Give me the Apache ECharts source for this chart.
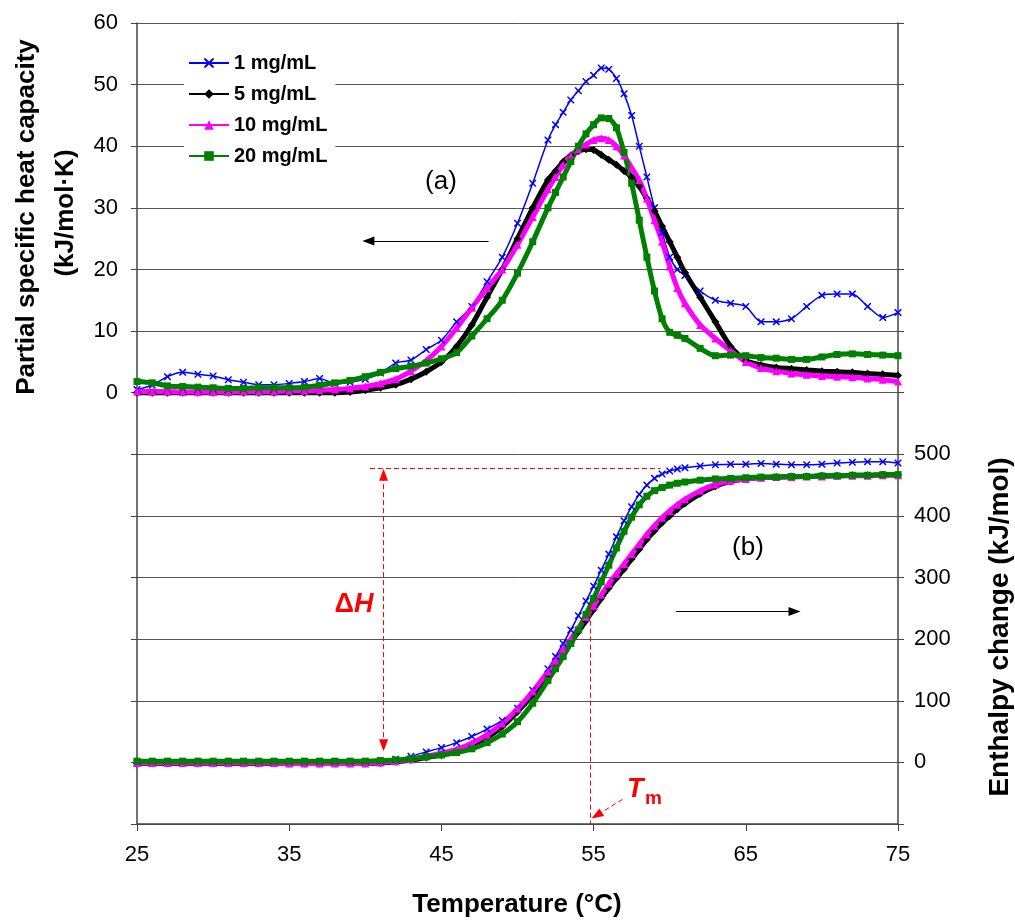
<!DOCTYPE html>
<html>
<head>
<meta charset="utf-8">
<script src="https://cdn.jsdelivr.net/npm/echarts@6/dist/echarts.min.js"></script>
<style>html,body{margin:0;padding:0;background:#fff}#c{width:1015px;height:920px}</style>
</head>
<body>
<div id="c"></div>
<script>
// Temperatures (°C)
const temps = [25,26,27,28,29,30,31,32,33,34,35,36,37,38,39,40,41,42,43,44,45,46,47,48,49,50,51,52,
  52.5,53,53.5,54,54.5,55,55.5,56,56.5,57,57.5,58,58.5,59,59.5,60,60.5,61,
  62,63,64,65,66,67,68,69,70,71,72,73,74,75];

// (a) Partial specific heat capacity (kJ/mol·K)
const cp1 = [0.5,1.2,2.6,3.3,3.0,2.7,2.1,1.7,1.3,1.3,1.5,1.8,2.3,1.5,1.7,2.2,3.2,4.8,5.3,7,8.5,11.5,14,18,22,27.5,34,41,
  43.5,45.5,47.5,49,50.5,51.5,52.7,52.5,51,48.5,45,40,35,30,26,22,20,19,
  16.5,15,14.5,14,11.5,11.5,12,14,15.8,16,16,14,12.2,13];
const cp5 = [0,0,0,0,0,0,0,0,0,0,0,0,0,0,0.1,0.4,0.8,1.3,2.2,3.4,5,7.5,11,15.5,20,25,30,34.5,
  36,37.5,38.5,39.2,39.5,39.4,38.6,37.8,37,36,35,33.5,31.5,29.5,27,24.5,22,19.5,
  15.5,11.5,7.5,5.2,4.5,4.1,3.9,3.7,3.5,3.4,3.3,3.1,3.0,2.8];
const cp10 = [0.2,0.2,0.2,0.1,0.1,0.1,0.1,0.2,0.2,0.2,0.3,0.3,0.4,0.5,0.7,1.0,1.5,2.2,3.5,5.2,7.5,10.5,13.8,17,20,24,28.5,33,
  35,37,38.5,39.5,40.3,41,41.3,41,40,38.5,36.5,34.5,31.5,28,24.5,20.5,17,14.5,
  11,8.8,6.8,5,4,3.5,3.1,2.9,2.7,2.6,2.5,2.3,2.1,1.8];
const cp20 = [1.8,1.6,1.1,1.0,0.9,0.8,0.7,0.7,0.8,0.8,0.8,0.9,1.2,1.6,2.0,2.6,3.3,3.9,4.3,4.8,5.5,6.5,9.2,12,15,19.4,24.5,30,
  32.5,35,37.5,40,42,43.5,44.6,44.5,43,39,34,28,22,16.5,12,9.8,9.3,8.8,
  7.2,6,6.1,6,5.7,5.6,5.4,5.4,5.8,6.2,6.3,6.2,6.1,6];

// (b) Enthalpy change (kJ/mol)
const h1 = [-1,-1,-1,-1,-1,-1,-1,-1,-1,-1,-1,-1,-1,-1,-1,0,2,5,10,17,24,32,42,54,68,88,117,152,
  172,193,215,238,262,286,312,338,366,392,415,435,450,461,468,473,476,478,
  481,483,484,484,485,484,483,483,484,486,487,488,488,486];
const h5 = [-2,-2,-2,-2,-2,-2,-2,-2,-2,-2,-2,-2,-2,-2,-2,-2,-1,1,4,8,12,17,26,40,58,82,110,142,
  160,178,194,212,230,248,266,283,299,314,330,346,362,376,389,400,411,420,
  436,448,456,460,462,463,464,464,465,465,466,466,467,467];
const h10 = [-1,-1,-1,-1,-1,-1,-1,-1,-1,-1,-2,-2,-2,-2,-2,-2,0,2,5,10,15,21,31,45,63,87,115,147,
  165,183,200,218,236,254,272,290,306,322,338,354,370,384,397,408,418,427,
  441,451,457,460,462,463,463,464,464,465,465,465,466,466];
const h20 = [2,2,2,2,2,2,2,2,2,2,2,2,2,2,2,2,3,4,6,9,12,16,22,32,46,66,96,133,
  152,172,193,215,240,266,293,320,348,375,398,418,432,441,446,450,453,455,
  458,460,461,462,463,463,464,464,465,465,466,466,467,467];

const seriesNames = ['1 mg/mL','5 mg/mL','10 mg/mL','20 mg/mL'];
const xTicks = [25,35,45,55,65,75];

// Annotation coordinates (data units)
const dHx = 41.2, dHlow = 28, dHhigh = 467, dHline = 477, dHlineFrom = 40.3, dHlineTo = 59.4;
const TmX = 54.8, TmTop = 256, axisBottom = -100;
const TmArrow = [[56.9,-60],[55.2,-86]];
const arrowA = {y:24.6, from:48.1, to:40.2};
const arrowB = {y:245, from:60.4, to:68.2};

const pair = arr => temps.map((t,i)=>[t,arr[i]]);
const FONT = 'Liberation Sans, Arial, sans-serif';
const xPath = 'path://M0,0 L1.5,0 L5,3.5 L8.5,0 L10,0 L10,1.5 L6.5,5 L10,8.5 L10,10 L8.5,10 L5,6.5 L1.5,10 L0,10 L0,8.5 L3.5,5 L0,1.5 Z';

const styles = [
  {color:'#0000ff', width:1.5, symbol:xPath, size:7},
  {color:'#000000', width:5, symbol:'diamond', size:8},
  {color:'#ff00ff', width:5, symbol:'triangle', size:8},
  {color:'#008000', width:5, symbol:'rect', size:7}
];
const topData = [cp1,cp5,cp10,cp20];
const botData = [h1,h5,h10,h20];

function mk(name, st, data, yIdx){
  return {
    name, type:'line', yAxisIndex:yIdx, data:pair(data),
    smooth:0.25, showAllSymbol:true, showSymbol:true,
    symbol:st.symbol, symbolSize:st.size,
    lineStyle:{color:st.color, width:st.width},
    itemStyle:{color:st.color, borderWidth:0},
    emphasis:{disabled:true}, silent:true, z:3
  };
}
const series = [];
for(let i=0;i<4;i++) series.push(mk(seriesNames[i], styles[i], topData[i], 0));
for(let i=0;i<4;i++) series.push(mk(seriesNames[i], styles[i], botData[i], 1));

const red = '#ff0000';
series.push({
  type:'line', yAxisIndex:1, data:[], silent:true, z:5,
  markLine:{
    silent:true, animation:false, label:{show:false}, emphasis:{disabled:true},
    lineStyle:{color:red, type:[5,3], width:1},
    symbolSize:[9,12],
    data:[
      [{coord:[dHx,dHlow], symbol:'triangle'},{coord:[dHx,dHhigh], symbol:'triangle'}],
      [{coord:[dHlineFrom,dHline], symbol:'none'},{coord:[dHlineTo,dHline], symbol:'none'}],
      [{coord:[TmX,TmTop], symbol:'none'},{coord:[TmX,axisBottom], symbol:'none'}],
      [{coord:TmArrow[0], symbol:'none'},{coord:TmArrow[1], symbol:'triangle'}],
      [{coord:[arrowB.from,arrowB.y], symbol:'none', lineStyle:{color:'#000',type:'solid',width:1.2}},
       {coord:[arrowB.to,arrowB.y], symbol:'triangle'}]
    ]
  }
});
series.push({
  type:'line', yAxisIndex:0, data:[], silent:true, z:5,
  markLine:{
    silent:true, animation:false, label:{show:false}, emphasis:{disabled:true},
    lineStyle:{color:'#000', type:'solid', width:1.2},
    symbolSize:[9,12],
    data:[
      [{coord:[arrowA.from,arrowA.y], symbol:'none'},{coord:[arrowA.to,arrowA.y], symbol:'triangle'}]
    ]
  }
});

const chart = echarts.init(document.getElementById('c'), null, {renderer:'canvas'});
const axisCol = '#444';
chart.setOption({
  animation:false,
  backgroundColor:'#fff',
  grid:{left:137, right:117, top:23, bottom:96, containLabel:false},
  legend:{
    data:seriesNames, orient:'vertical', left:184, top:49,
    itemWidth:40, itemHeight:12, itemGap:11, padding:[4,8,4,4],
    backgroundColor:'#fff',
    lineStyle:{width:2},
    textStyle:{fontFamily:FONT, fontWeight:'bold', fontSize:20, color:'#000'},
    selectedMode:false
  },
  xAxis:{
    type:'value', min:25, max:75, interval:10,
    axisLine:{show:true, onZero:false, lineStyle:{color:axisCol, width:1.5}},
    axisTick:{show:true, length:7, lineStyle:{color:axisCol}},
    axisLabel:{fontFamily:FONT, fontSize:22, color:'#000', margin:20,
      formatter:v=> xTicks.includes(v)? String(v):''},
    splitLine:{show:false}
  },
  yAxis:[
    {type:'value', position:'left', min:-70, max:60, interval:10,
     axisLine:{show:true, lineStyle:{color:axisCol, width:1.5}},
     axisTick:{show:true, length:6, lineStyle:{color:axisCol}},
     axisLabel:{fontFamily:FONT, fontSize:22, color:'#000', margin:19,
       formatter:v=> v>=0? String(v):''},
     splitLine:{show:true, lineStyle:{color:'#555', width:1}}},
    {type:'value', position:'right', min:-100, max:1200, interval:100,
     axisLine:{show:true, lineStyle:{color:axisCol, width:1.5}},
     axisTick:{show:true, length:6, lineStyle:{color:axisCol}},
     axisLabel:{fontFamily:FONT, fontSize:22, color:'#000', margin:16,
       formatter:v=> (v>=0 && v<=500)? String(v):''},
     splitLine:{show:false}}
  ],
  graphic:[
    {type:'text', x:27, y:217, rotation:Math.PI/2, silent:true,
     style:{text:'Partial specific heat capacity', font:'bold 26px '+FONT, fill:'#000', align:'center', verticalAlign:'middle'}},
    {type:'text', x:66, y:213, rotation:Math.PI/2, silent:true,
     style:{text:'(kJ/mol·K)', font:'bold 26px '+FONT, fill:'#000', align:'center', verticalAlign:'middle'}},
    {type:'text', x:1000, y:627, rotation:Math.PI/2, silent:true,
     style:{text:'Enthalpy change (kJ/mol)', font:'bold 28px '+FONT, fill:'#000', align:'center', verticalAlign:'middle'}},
    {type:'text', x:517, y:905, silent:true,
     style:{text:'Temperature (°C)', font:'bold 26px '+FONT, fill:'#000', align:'center', verticalAlign:'middle'}},
    {type:'text', x:441, y:182, silent:true,
     style:{text:'(a)', font:'26px '+FONT, fill:'#000', align:'center', verticalAlign:'middle'}},
    {type:'text', x:748, y:548, silent:true,
     style:{text:'(b)', font:'26px '+FONT, fill:'#000', align:'center', verticalAlign:'middle'}},
    {type:'text', x:354, y:605, silent:true,
     style:{text:'{d|Δ}{h|H}', align:'center', verticalAlign:'middle',
       rich:{d:{font:'bold 27px '+FONT, fill:red}, h:{font:'italic bold 27px '+FONT, fill:red}}}},
    {type:'text', x:627, y:790, silent:true,
     style:{text:'T', font:'italic bold 27px '+FONT, fill:red, align:'left', verticalAlign:'middle'}},
    {type:'text', x:645, y:799, silent:true,
     style:{text:'m', font:'bold 19px '+FONT, fill:red, align:'left', verticalAlign:'middle'}}
  ],
  series
});
</script>
</body>
</html>
